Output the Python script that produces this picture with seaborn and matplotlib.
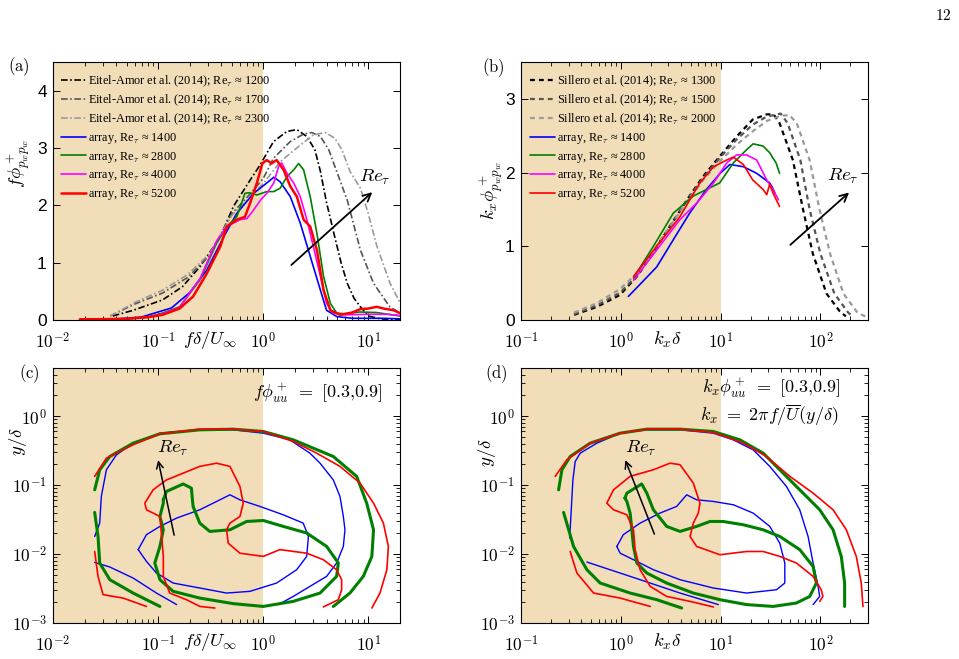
import numpy as np
import matplotlib
matplotlib.use("Agg")
import matplotlib.pyplot as plt
import seaborn as sns
from matplotlib.ticker import FuncFormatter, NullFormatter, LogLocator, MultipleLocator

# ---------------- panel (a): premultiplied wall-pressure spectra vs f*delta/U
ea1200_x = [0.037, 0.058, 0.11, 0.17, 0.25, 0.39, 0.52, 0.75, 0.93, 1.25, 1.68, 2.09, 2.6, 3.1, 3.5, 4.0, 4.7, 5.5, 6.3, 7.3, 8.4, 10, 13, 20]
ea1200_y = [0.07, 0.17, 0.35, 0.58, 0.93, 1.45, 1.98, 2.44, 2.7, 3.11, 3.29, 3.32, 3.2, 2.97, 2.59, 2.05, 1.51, 1.0, 0.64, 0.38, 0.23, 0.07, 0.02, 0.0]
ea1700_x = [0.035, 0.06, 0.11, 0.19, 0.31, 0.5, 0.75, 1.0, 1.25, 1.8, 2.4, 2.9, 3.5, 4.2, 5.0, 6.3, 8.4, 11.2, 16, 20]
ea1700_y = [0.07, 0.28, 0.47, 0.74, 1.13, 1.85, 2.2, 2.47, 2.82, 3.11, 3.24, 3.27, 3.2, 2.97, 2.59, 2.09, 1.22, 0.64, 0.23, 0.12]
ea2300_x = [0.035, 0.062, 0.11, 0.19, 0.31, 0.5, 0.75, 1.0, 1.45, 2.25, 3.0, 3.9, 4.8, 5.6, 6.7, 8.4, 10, 12, 16, 20]
ea2300_y = [0.07, 0.32, 0.52, 0.79, 1.16, 1.82, 2.15, 2.38, 2.76, 3.05, 3.23, 3.27, 3.17, 2.97, 2.59, 2.3, 1.85, 1.3, 0.65, 0.3]

a1400_x = [0.018, 0.04, 0.069, 0.1, 0.134, 0.2, 0.29, 0.42, 0.56, 0.81, 1.08, 1.26, 1.45, 1.81, 2.25, 2.8, 3.5, 4.0, 5.0, 7, 10, 14, 20]
a1400_y = [0.01, 0.02, 0.05, 0.14, 0.21, 0.48, 0.87, 1.45, 1.86, 2.21, 2.39, 2.49, 2.41, 2.15, 1.69, 1.11, 0.52, 0.17, 0.06, 0.03, 0.03, 0.03, 0.02]
a2800_x = [0.018, 0.05, 0.08, 0.11, 0.16, 0.25, 0.36, 0.45, 0.56, 0.67, 0.74, 0.87, 1.08, 1.26, 1.45, 1.68, 1.95, 2.17, 2.42, 2.8, 3.24, 3.75, 4.35, 5.0, 6, 8.3, 12, 20]
a2800_y = [0.01, 0.02, 0.05, 0.12, 0.23, 0.7, 1.34, 1.63, 1.8, 2.21, 2.22, 2.18, 2.24, 2.24, 2.3, 2.5, 2.62, 2.73, 2.62, 2.15, 1.51, 0.76, 0.29, 0.12, 0.11, 0.14, 0.13, 0.07]
a4000_x = [0.018, 0.05, 0.08, 0.11, 0.16, 0.25, 0.36, 0.45, 0.6, 0.7, 0.81, 0.94, 1.08, 1.26, 1.4, 1.5, 1.68, 1.95, 2.25, 2.6, 3.0, 3.5, 4.0, 4.6, 6, 10, 15, 20]
a4000_y = [0.01, 0.02, 0.05, 0.11, 0.22, 0.72, 1.38, 1.63, 1.75, 1.77, 1.92, 2.09, 2.21, 2.39, 2.68, 2.74, 2.56, 2.39, 2.15, 1.75, 1.28, 0.76, 0.29, 0.12, 0.09, 0.1, 0.1, 0.08]
a5200_x = [0.018, 0.05, 0.08, 0.11, 0.16, 0.215, 0.29, 0.39, 0.45, 0.56, 0.67, 0.75, 0.87, 0.98, 1.08, 1.2, 1.34, 1.56, 1.81, 2.09, 2.42, 2.8, 3.24, 3.75, 4.35, 5.4, 7, 8.4, 10, 12, 14, 17.4, 20]
a5200_y = [0.01, 0.02, 0.05, 0.09, 0.2, 0.41, 0.81, 1.28, 1.63, 1.75, 1.8, 2.04, 2.39, 2.73, 2.79, 2.73, 2.79, 2.62, 2.33, 2.15, 1.75, 1.63, 1.22, 0.52, 0.17, 0.09, 0.13, 0.19, 0.2, 0.23, 0.2, 0.17, 0.12]

# ---------------- panel (b): spectra vs kx*delta
sil1300_x = [0.34, 0.58, 0.98, 1.45, 2.1, 3.1, 4.6, 6.7, 9.8, 14.5, 21, 29, 34, 39, 53, 67, 84, 115, 156, 180]
sil1300_y = [0.07, 0.18, 0.34, 0.59, 0.91, 1.27, 1.63, 1.95, 2.22, 2.49, 2.72, 2.79, 2.79, 2.67, 2.17, 1.5, 0.9, 0.36, 0.12, 0.05]
sil1500_x = [0.34, 0.58, 0.98, 1.45, 2.1, 3.1, 4.6, 6.7, 9.8, 14.5, 21, 29, 40, 47, 63, 78, 100, 138, 190, 215]
sil1500_y = [0.08, 0.2, 0.37, 0.6, 0.92, 1.27, 1.62, 1.93, 2.2, 2.45, 2.65, 2.76, 2.8, 2.67, 2.17, 1.5, 0.9, 0.36, 0.1, 0.04]
sil2000_x = [0.34, 0.58, 0.98, 1.45, 2.1, 3.1, 4.6, 6.7, 9.8, 14.5, 21, 29, 40, 49, 58, 78, 98, 125, 170, 235, 290]
sil2000_y = [0.1, 0.23, 0.42, 0.63, 0.93, 1.27, 1.6, 1.9, 2.15, 2.38, 2.56, 2.7, 2.77, 2.78, 2.67, 2.17, 1.5, 0.9, 0.36, 0.1, 0.04]

b1400_x = [1.19, 1.6, 2.29, 3.36, 4.9, 7.2, 9.9, 12.4, 16.9, 23, 31, 33, 35]
b1400_y = [0.32, 0.5, 0.72, 1.09, 1.45, 1.77, 1.99, 2.11, 2.08, 1.99, 1.86, 1.8, 1.72]
b2800_x = [1.34, 2.12, 3.36, 5.3, 7.2, 9.8, 13.4, 18.2, 21.2, 26.7, 31, 36, 39]
b2800_y = [0.57, 1.0, 1.45, 1.68, 1.77, 1.86, 2.13, 2.31, 2.39, 2.36, 2.27, 2.13, 1.99]
b4000_x = [1.34, 2.29, 3.9, 5.8, 8.5, 11.5, 14.5, 18.2, 23, 29, 33.6, 38]
b4000_y = [0.54, 0.95, 1.36, 1.59, 1.86, 2.13, 2.24, 2.24, 2.17, 1.9, 1.77, 1.63]
b5200_x = [1.34, 2.29, 3.9, 6.2, 8.5, 11.5, 13.4, 16.9, 21, 26.7, 29, 31, 33.6, 39]
b5200_y = [0.59, 1.0, 1.4, 1.86, 2.08, 2.17, 2.21, 2.11, 1.9, 1.77, 1.7, 1.84, 1.72, 1.54]

# ---------------- panel (c): contour lines (0.3 outer, 0.9 inner), x = f*delta/U
c_blue_out_x = [0.0249, 0.0278, 0.0288, 0.0322, 0.0401, 0.0578, 0.104, 0.249, 0.518, 1.0, 1.79, 2.78, 3.47, 4.64, 5.37, 5.78, 5.99, 5.78, 4.99, 4.01, 2.78, 1.93, 1.39]
c_blue_out_y = [0.018, 0.0281, 0.0685, 0.167, 0.275, 0.406, 0.567, 0.634, 0.634, 0.567, 0.454, 0.291, 0.208, 0.119, 0.0685, 0.0351, 0.0225, 0.0129, 0.00741, 0.00475, 0.0034, 0.00243, 0.00185]
c_blue_low_x = [0.0249, 0.0347, 0.0578, 0.0964, 0.15]
c_blue_low_y = [0.00757, 0.00649, 0.00449, 0.00272, 0.00185]
c_blue_in_x = [0.0646, 0.0774, 0.104, 0.15, 0.249, 0.387, 0.482, 0.6, 0.929, 1.55, 2.4, 2.69, 2.59, 2.08, 1.34, 0.747, 0.448, 0.249, 0.139, 0.0964, 0.0774, 0.0646]
c_blue_in_y = [0.0116, 0.0191, 0.0252, 0.0333, 0.0439, 0.0612, 0.0724, 0.0612, 0.0491, 0.0371, 0.0281, 0.018, 0.00925, 0.00593, 0.0038, 0.00288, 0.00272, 0.00322, 0.0038, 0.00531, 0.00783, 0.0116]
c_green_out_x = [0.0249, 0.0278, 0.0347, 0.0578, 0.104, 0.249, 0.518, 1.0, 1.93, 4.64, 7.74, 9.64, 11.2, 10.8, 8.95, 6.68, 4.64]
c_green_out_y = [0.0855, 0.167, 0.26, 0.406, 0.555, 0.634, 0.648, 0.6, 0.454, 0.26, 0.134, 0.0548, 0.0225, 0.00925, 0.00475, 0.00272, 0.00174]
c_green_low_x = [0.0249, 0.0268, 0.0278, 0.0347, 0.0578, 0.104]
c_green_low_y = [0.0402, 0.018, 0.00741, 0.00425, 0.00272, 0.00174]
c_green_in_x = [0.112, 0.12, 0.173, 0.207, 0.215, 0.249, 0.31, 0.482, 0.694, 1.0, 1.55, 2.59, 4.01, 5.18, 4.99, 3.47, 1.93, 1.0, 0.518, 0.249, 0.139, 0.104, 0.0929, 0.104, 0.112, 0.104, 0.112, 0.112]
c_green_in_y = [0.0612, 0.0809, 0.104, 0.0905, 0.0491, 0.0281, 0.0213, 0.0225, 0.0297, 0.0307, 0.0252, 0.0202, 0.0129, 0.00741, 0.00475, 0.00272, 0.00206, 0.00174, 0.00191, 0.0023, 0.00288, 0.00425, 0.00741, 0.0129, 0.0225, 0.0351, 0.0548, 0.0612]
c_red_out_x = [0.0249, 0.0322, 0.0578, 0.104, 0.249, 0.518, 1.0, 1.93, 3.22, 5.37, 8.33, 11.2, 13.9, 15.5, 15.0, 12.9, 10.8]
c_red_out_y = [0.134, 0.246, 0.385, 0.555, 0.648, 0.648, 0.6, 0.43, 0.291, 0.187, 0.107, 0.0548, 0.0281, 0.0129, 0.00593, 0.00272, 0.00165]
c_red_low_x = [0.0249, 0.0268, 0.0299, 0.0464, 0.0774]
c_red_low_y = [0.0109, 0.00475, 0.00258, 0.0023, 0.00174]
c_red_in_x = [0.347, 0.249, 0.186, 0.129, 0.112, 0.112, 0.108, 0.104, 0.0774, 0.0747, 0.0896, 0.12, 0.173, 0.249, 0.36, 0.482, 0.6, 0.645, 0.6, 0.482, 0.448, 0.464, 0.6, 1.0, 1.44, 2.59, 3.73, 4.99, 5.57, 5.57, 5.18, 3.73]
c_red_in_y = [0.00165, 0.00174, 0.00218, 0.00272, 0.00475, 0.00925, 0.018, 0.0351, 0.0439, 0.0548, 0.0855, 0.119, 0.149, 0.187, 0.208, 0.187, 0.0956, 0.0548, 0.0351, 0.0281, 0.0225, 0.0144, 0.0103, 0.00925, 0.0116, 0.0103, 0.00828, 0.00593, 0.00425, 0.00304, 0.00218, 0.00171]

# ---------------- panel (d): same contours, x = kx*delta
d_blue_out_x = [0.307, 0.316, 0.331, 0.349, 0.392, 0.575, 0.985, 1.82, 3.92, 8.45, 13.4, 21.2, 31.1, 45.7, 62.1, 75.3, 84.5, 94.8, 98.5, 84.5]
d_blue_out_y = [0.0171, 0.0351, 0.119, 0.22, 0.291, 0.406, 0.567, 0.634, 0.634, 0.567, 0.454, 0.325, 0.187, 0.0956, 0.0439, 0.018, 0.00741, 0.0034, 0.00243, 0.00185]
d_blue_low_x = [0.457, 1.24, 3.92, 9.48]
d_blue_low_y = [0.00766, 0.00475, 0.00272, 0.00185]
d_blue_in_x = [0.912, 1.06, 1.56, 2.47, 3.63, 4.57, 5.75, 8.45, 13.4, 21.2, 31.1, 39.2, 44.0, 44.0, 36.3, 18.2, 8.45, 3.92, 2.12, 1.34, 0.985, 0.912]
d_blue_in_y = [0.0129, 0.0191, 0.0281, 0.0393, 0.0491, 0.0724, 0.0612, 0.058, 0.0519, 0.0393, 0.0252, 0.0144, 0.00741, 0.0038, 0.00304, 0.00272, 0.00322, 0.00425, 0.00593, 0.00828, 0.0103, 0.0129]
d_green_out_x = [0.238, 0.257, 0.311, 0.493, 0.985, 1.82, 3.92, 8.45, 15.6, 26.7, 39.2, 62.1, 98.5, 134, 162, 175, 175]
d_green_out_y = [0.0855, 0.167, 0.26, 0.406, 0.567, 0.648, 0.648, 0.6, 0.454, 0.291, 0.167, 0.0855, 0.0439, 0.0225, 0.00925, 0.0038, 0.00174]
d_green_low_x = [0.267, 0.336, 0.457, 0.621, 1.24, 2.29, 4.07]
d_green_low_y = [0.0402, 0.0129, 0.00593, 0.0038, 0.00272, 0.00218, 0.00165]
d_green_in_x = [1.1, 1.15, 1.62, 1.82, 2.12, 2.88, 3.92, 5.75, 7.82, 10.6, 16.9, 26.7, 39.2, 62.1, 84.5, 91.2, 78.2, 57.5, 33.6, 18.2, 9.85, 5.33, 2.88, 1.82, 1.45, 1.34, 1.29, 1.24, 1.15, 1.1]
d_green_in_y = [0.0648, 0.0766, 0.104, 0.0766, 0.0439, 0.0252, 0.0213, 0.0252, 0.0297, 0.0297, 0.0266, 0.0225, 0.018, 0.0116, 0.00662, 0.0038, 0.00243, 0.00195, 0.00174, 0.00185, 0.00218, 0.00272, 0.0038, 0.00531, 0.00741, 0.0129, 0.0225, 0.0393, 0.058, 0.0648]
d_red_out_x = [0.22, 0.288, 0.493, 0.985, 1.82, 3.92, 8.45, 16.9, 28.8, 49.4, 84.5, 134, 182, 229, 257, 267]
d_red_out_y = [0.134, 0.233, 0.406, 0.567, 0.648, 0.648, 0.58, 0.406, 0.26, 0.134, 0.0766, 0.0439, 0.0225, 0.00925, 0.0038, 0.00174]
d_red_low_x = [0.311, 0.363, 0.533, 0.985, 1.97]
d_red_low_y = [0.0109, 0.00531, 0.00272, 0.0023, 0.00174]
d_red_in_x = [8.45, 4.94, 2.88, 1.97, 1.56, 1.39, 1.34, 1.15, 0.845, 0.724, 0.845, 1.24, 2.12, 3.11, 3.92, 5.33, 6.21, 5.98, 5.33, 4.94, 5.75, 9.85, 18.2, 26.7, 39.2, 57.5, 84.5, 102, 106, 98.5]
d_red_in_y = [0.00171, 0.00206, 0.00243, 0.0034, 0.00593, 0.0116, 0.0225, 0.0371, 0.0439, 0.0548, 0.0855, 0.134, 0.167, 0.208, 0.198, 0.107, 0.0548, 0.0393, 0.0281, 0.018, 0.0129, 0.00978, 0.0109, 0.0109, 0.00925, 0.00741, 0.00475, 0.00304, 0.00243, 0.00206]

labels_ea = ["Eitel-Amor et al. (2014); Re$_\\tau$ \u2248 1200",
             "Eitel-Amor et al. (2014); Re$_\\tau$ \u2248 1700",
             "Eitel-Amor et al. (2014); Re$_\\tau$ \u2248 2300"]
labels_sil = ["Sillero et al. (2014); Re$_\\tau$ \u2248 1300",
              "Sillero et al. (2014); Re$_\\tau$ \u2248 1500",
              "Sillero et al. (2014); Re$_\\tau$ \u2248 2000"]
labels_arr = ["array, Re$_\\tau$ \u2248 1400", "array, Re$_\\tau$ \u2248 2800",
              "array, Re$_\\tau$ \u2248 4000", "array, Re$_\\tau$ \u2248 5200"]

ref_colors = ["black", "#555555", "#9a9a9a"]
arr_colors = ["#0000ff", "#008000", "#ff00ff", "#ff0000"]
tan = "#f1ddb8"

sns.set_theme(style="white")
plt.rcParams.update({
    "font.family": ["Liberation Sans", "DejaVu Sans"],
    "mathtext.fontset": "cm",
    "text.color": "black", "axes.labelcolor": "black",
    "axes.edgecolor": "black", "axes.linewidth": 0.8,
    "xtick.color": "black", "ytick.color": "black",
    "xtick.direction": "in", "ytick.direction": "in",
    "xtick.bottom": True, "xtick.top": True,
    "ytick.left": True, "ytick.right": True,
    "xtick.major.size": 5, "ytick.major.size": 5,
    "xtick.minor.size": 2.7, "ytick.minor.size": 2.7,
    "xtick.major.width": 0.7, "ytick.major.width": 0.7,
    "xtick.minor.width": 0.6, "ytick.minor.width": 0.6,
    "xtick.labelsize": 12.5, "ytick.labelsize": 12.5,
    "xtick.major.pad": 7.5, "ytick.major.pad": 4.5,
})


def pow10(v, pos):
    return r"$\mathsf{10^{%d}}$" % int(np.round(np.log10(v)))


def line(ax, x, y, color, lw=1.2, ls="-", label=None):
    sns.lineplot(x=x, y=y, ax=ax, color=color, lw=lw, linestyle=ls,
                 sort=False, estimator=None, label=label, legend=False)


def logx(ax, lo, hi):
    ax.set_xscale("log")
    ax.set_xlim(lo, hi)
    ax.xaxis.set_major_locator(LogLocator(base=10, numticks=10))
    ax.xaxis.set_minor_locator(LogLocator(base=10, subs=np.arange(2, 10), numticks=20))
    ax.xaxis.set_major_formatter(FuncFormatter(pow10))
    ax.xaxis.set_minor_formatter(NullFormatter())


def logy(ax):
    ax.set_yscale("log")
    ax.set_ylim(1e-3, 5)
    ax.yaxis.set_major_locator(LogLocator(base=10, numticks=10))
    ax.yaxis.set_minor_locator(LogLocator(base=10, subs=np.arange(2, 10), numticks=20))
    ax.yaxis.set_major_formatter(FuncFormatter(pow10))
    ax.yaxis.set_minor_formatter(NullFormatter())


fig = plt.figure(figsize=(9.59, 6.59), dpi=100)
ax_a = fig.add_axes([0.0553, 0.5144, 0.3618, 0.3915])
ax_b = fig.add_axes([0.5433, 0.5144, 0.3618, 0.3915])
ax_c = fig.add_axes([0.0553, 0.0546, 0.3618, 0.387])
ax_d = fig.add_axes([0.5433, 0.0546, 0.3618, 0.387])

dashdot = (0, (4, 1.5, 1, 1.5))
dashed = (0, (2.2, 1.8))

# (a)
ax_a.axvspan(0.01, 1, color=tan, lw=0, zorder=0)
for xs, ys, c, lab in zip([ea1200_x, ea1700_x, ea2300_x], [ea1200_y, ea1700_y, ea2300_y], ref_colors, labels_ea):
    line(ax_a, xs, ys, c, lw=1.2, ls=dashdot, label=lab)
for xs, ys, c, lab, w in zip([a1400_x, a2800_x, a4000_x, a5200_x], [a1400_y, a2800_y, a4000_y, a5200_y],
                             arr_colors, labels_arr, [1.2, 1.2, 1.2, 1.8]):
    line(ax_a, xs, ys, c, lw=w, label=lab)
logx(ax_a, 0.01, 20)
ax_a.set_ylim(0, 4.5)
ax_a.yaxis.set_major_locator(MultipleLocator(1))
ax_a.annotate("", xy=(10.9, 2.23), xytext=(1.85, 0.96),
              arrowprops=dict(arrowstyle="->", color="black", lw=1.3, shrinkA=0, shrinkB=0, mutation_scale=14))
ax_a.text(11.4, 2.48, r"$Re_\tau$", fontsize=13.5, ha="center", va="center")

# (b)
ax_b.axvspan(0.1, 10, color=tan, lw=0, zorder=0)
for xs, ys, c, lab in zip([sil1300_x, sil1500_x, sil2000_x], [sil1300_y, sil1500_y, sil2000_y], ref_colors, labels_sil):
    line(ax_b, xs, ys, c, lw=1.6, ls=dashed, label=lab)
for xs, ys, c, lab in zip([b1400_x, b2800_x, b4000_x, b5200_x], [b1400_y, b2800_y, b4000_y, b5200_y],
                          arr_colors, labels_arr):
    line(ax_b, xs, ys, c, lw=1.2, label=lab)
logx(ax_b, 0.1, 300)
ax_b.set_ylim(0, 3.5)
ax_b.yaxis.set_major_locator(MultipleLocator(1))
ax_b.annotate("", xy=(194, 1.73), xytext=(50, 1.02),
              arrowprops=dict(arrowstyle="->", color="black", lw=1.3, shrinkA=0, shrinkB=0, mutation_scale=14))
ax_b.text(168, 1.95, r"$Re_\tau$", fontsize=13.5, ha="center", va="center")

# (c)
ax_c.axvspan(0.01, 1, color=tan, lw=0, zorder=0)
c_sets = [
    (c_blue_out_x, c_blue_out_y, arr_colors[0], 1.0), (c_blue_low_x, c_blue_low_y, arr_colors[0], 1.0),
    (c_blue_in_x, c_blue_in_y, arr_colors[0], 1.0),
    (c_green_out_x, c_green_out_y, arr_colors[1], 2.2), (c_green_low_x, c_green_low_y, arr_colors[1], 2.2),
    (c_green_in_x, c_green_in_y, arr_colors[1], 2.2),
    (c_red_out_x, c_red_out_y, arr_colors[3], 1.2), (c_red_low_x, c_red_low_y, arr_colors[3], 1.2),
    (c_red_in_x, c_red_in_y, arr_colors[3], 1.2),
]
for xs, ys, c, w in c_sets:
    line(ax_c, xs, ys, c, lw=w)
logx(ax_c, 0.01, 20)
logy(ax_c)
ax_c.annotate("", xy=(0.1, 0.23), xytext=(0.142, 0.0188),
              arrowprops=dict(arrowstyle="->", color="black", lw=1.1, shrinkA=0, shrinkB=0, mutation_scale=12))
ax_c.text(0.139, 0.34, r"$Re_\tau$", fontsize=13.5, ha="center", va="center")
ax_c.text(0.948, 0.902, r"$f\phi^+_{uu}\ =\ [0.3{,}0.9]$", transform=ax_c.transAxes,
          fontsize=13, ha="right", va="center")

# (d)
ax_d.axvspan(0.1, 10, color=tan, lw=0, zorder=0)
d_sets = [
    (d_blue_out_x, d_blue_out_y, arr_colors[0], 1.0), (d_blue_low_x, d_blue_low_y, arr_colors[0], 1.0),
    (d_blue_in_x, d_blue_in_y, arr_colors[0], 1.0),
    (d_green_out_x, d_green_out_y, arr_colors[1], 2.2), (d_green_low_x, d_green_low_y, arr_colors[1], 2.2),
    (d_green_in_x, d_green_in_y, arr_colors[1], 2.2),
    (d_red_out_x, d_red_out_y, arr_colors[3], 1.2), (d_red_low_x, d_red_low_y, arr_colors[3], 1.2),
    (d_red_in_x, d_red_in_y, arr_colors[3], 1.2),
]
for xs, ys, c, w in d_sets:
    line(ax_d, xs, ys, c, lw=w)
logx(ax_d, 0.1, 300)
logy(ax_d)
ax_d.annotate("", xy=(1.11, 0.23), xytext=(2.17, 0.0195),
              arrowprops=dict(arrowstyle="->", color="black", lw=1.1, shrinkA=0, shrinkB=0, mutation_scale=12))
ax_d.text(1.57, 0.34, r"$Re_\tau$", fontsize=13.5, ha="center", va="center")
ax_d.text(0.919, 0.922, r"$k_x\phi^+_{uu}\ =\ [0.3{,}0.9]$", transform=ax_d.transAxes,
          fontsize=13, ha="right", va="center")
ax_d.text(0.914, 0.816, r"$k_x\ =\ 2\pi f/\overline{U}(y/\delta)$", transform=ax_d.transAxes,
          fontsize=13, ha="right", va="center")

# legends
leg_font = {"family": ["Liberation Serif", "DejaVu Serif"], "size": 8.8}
for ax, anchor in [(ax_a, (0.022, 0.955)), (ax_b, (0.025, 0.955))]:
    h, l = ax.get_legend_handles_labels()
    ax.legend(h, l, loc="upper left", bbox_to_anchor=anchor, frameon=False, prop=leg_font,
              handlelength=2.1, handletextpad=0.15, labelspacing=0.3, borderpad=0, borderaxespad=0)

# axis labels (placed inside the tick-label row as in the original)
for ax, xl, xc, yl, yc in [
    (ax_a, r"$f\delta/U_\infty$", (0.452, -0.076), r"$f\phi^+_{p_wp_w}$", (-0.101, 0.609)),
    (ax_b, r"$k_x\delta$", (0.421, -0.076), r"$k_x\phi^+_{p_wp_w}$", (-0.086, 0.5)),
    (ax_c, r"$f\delta/U_\infty$", (0.452, -0.073), r"$y/\delta$", (-0.101, 0.71)),
    (ax_d, r"$k_x\delta$", (0.421, -0.073), r"$y/\delta$", (-0.098, 0.67)),
]:
    ax.set_xlabel(xl, fontsize=13.5, va="center")
    ax.xaxis.set_label_coords(*xc)
    ax.set_ylabel(yl, fontsize=13.5, va="center")
    ax.yaxis.set_label_coords(*yc)

for txt, px, py in [("(a)", 19, 67), ("(b)", 493, 68), ("(c)", 29, 374), ("(d)", 496, 374)]:
    fig.text(px / 959, 1 - py / 659, r"$\mathrm{%s}$" % txt, fontsize=12, ha="center", va="center")
fig.text(943 / 959, 1 - 16 / 659, r"$\mathrm{12}$", fontsize=11, ha="center", va="center")

fig.savefig("out.png", dpi=100)
